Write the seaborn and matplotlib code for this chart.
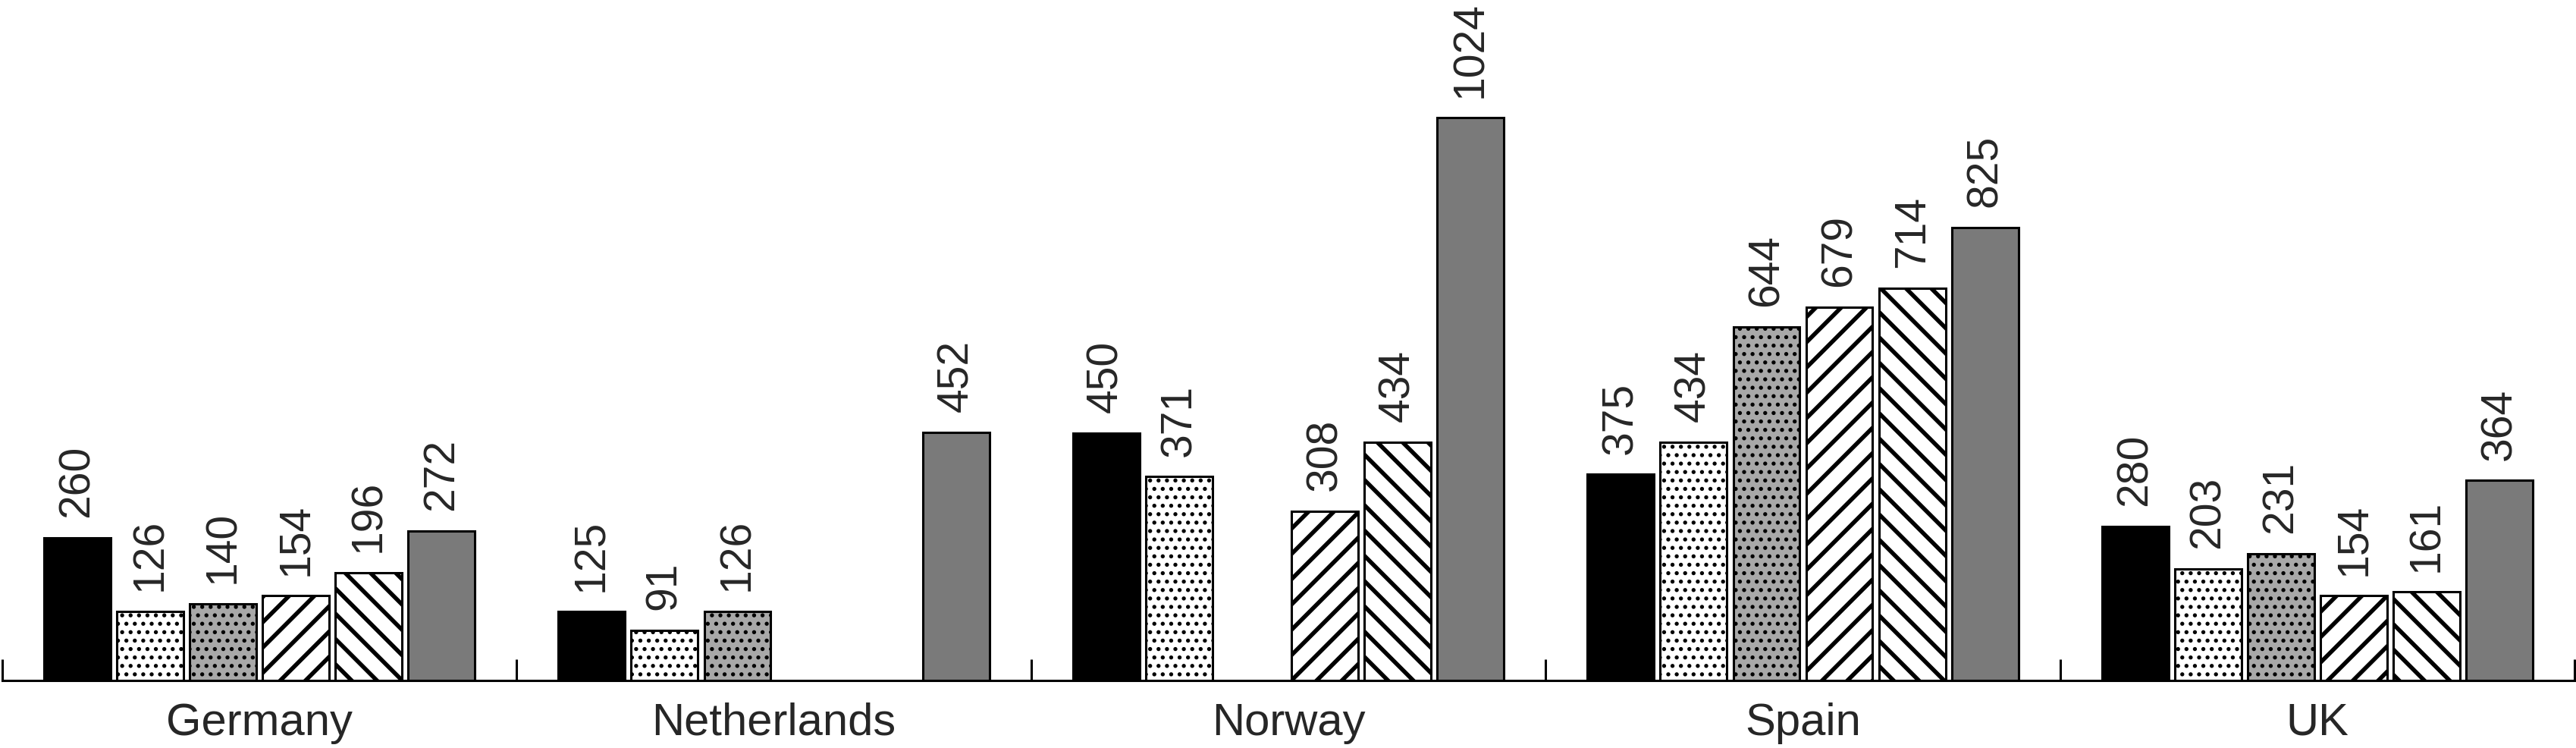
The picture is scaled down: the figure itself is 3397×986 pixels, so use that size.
import numpy as np
import pandas as pd
import matplotlib
matplotlib.use("Agg")
import matplotlib.pyplot as plt
from matplotlib.ticker import FixedLocator
import seaborn as sns

# values (NaN = no bar)
countries = ["Germany", "Netherlands", "Norway", "Spain", "UK"]
series = ["S1", "S2", "S3", "S4", "S5", "S6"]
s1 = [260, 125, 450, 375, 280]
s2 = [126, 91, 371, 434, 203]
s3 = [140, 126, np.nan, 644, 231]
s4 = [154, np.nan, 308, 679, 154]
s5 = [196, np.nan, 434, 714, 161]
s6 = [272, 452, 1024, 825, 364]

colors = ["#000000", "#ffffff", "#a8a8a8", "#ffffff", "#ffffff", "#7a7a7a"]
hatches = ["", "...", "...", "//", "\\\\", ""]
hatch_lw = [1.0, 1.1, 1.1, 2.0, 2.0, 1.0]

df = pd.DataFrame({"country": countries * 6,
                   "series": [s for s in series for _ in countries],
                   "value": s1 + s2 + s3 + s4 + s5 + s6})

sns.set_style("white")
plt.rcParams["font.family"] = ["Liberation Sans", "DejaVu Sans"]

fig = plt.figure(figsize=(16.99, 4.935), dpi=200)
ax = fig.add_axes([0.0008, 0.0902, 0.9984, 0.9098])

sns.barplot(data=df, x="country", y="value", hue="series", order=countries,
            hue_order=series, palette=colors, saturation=1, width=0.85, gap=0.087,
            edgecolor="black", linewidth=1.1, errorbar=None, legend=False, ax=ax)

for container, h, hlw in zip(ax.containers, hatches, hatch_lw):
    for bar in container:
        bar.set_hatch(h)
        bar.set_edgecolor("black")
        if hasattr(bar, "set_hatch_linewidth"):
            bar.set_hatch_linewidth(hlw)
        else:
            bar._hatch_linewidth = hlw
    ax.bar_label(container, labels=[f"{v:.0f}" for v in container.datavalues],
                 rotation=90, padding=10, fontsize=20.5)

ax.set_xlim(-0.5, 4.5)
ax.set_ylim(0, 1240)
ax.set_xlabel("")
ax.set_ylabel("")
ax.set_yticks([])
for side in ["top", "left", "right"]:
    ax.spines[side].set_visible(False)
ax.spines["bottom"].set_linewidth(1.1)
ax.spines["bottom"].set_color("black")

ax.xaxis.set_minor_locator(FixedLocator(np.arange(-0.5, 5, 1)))
ax.tick_params(axis="x", which="major", length=0, pad=10, labelsize=21.5)
ax.tick_params(axis="x", which="minor", direction="in", length=10, width=1.1,
               color="black", bottom=True)

fig.savefig("out.png", dpi=200)
